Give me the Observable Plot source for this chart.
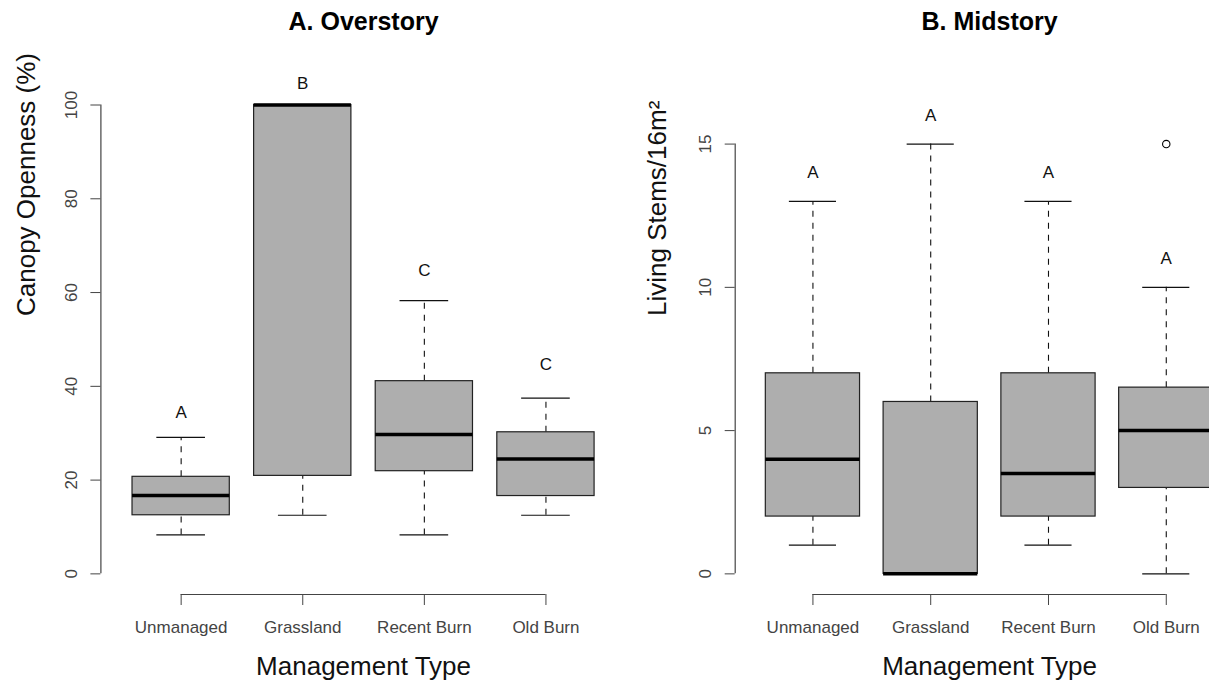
<!DOCTYPE html>
<html>
<head>
<meta charset="utf-8">
<script src="https://cdn.jsdelivr.net/npm/d3@7"></script>
<script src="https://cdn.jsdelivr.net/npm/@observablehq/plot@0.6"></script>
<style>
  html, body { margin: 0; padding: 0; background: #fff; overflow: hidden; }
  #wrap { position: relative; width: 1209px; height: 684px; overflow: hidden; background: #fff; }
  #left, #right { position: absolute; top: 0; }
  #left { left: 0; width: 640px; }
  #right { left: 640px; width: 620px; }
  #wrap svg { max-width: none !important; display: block; }
</style>
</head>
<body>
<div id="wrap"><div id="left"></div><div id="right"></div></div>
<script>
// ---- Data ----
const categories = ["Unmanaged", "Grassland", "Recent Burn", "Old Burn"];
const xTitle = "Management Type";

// A. Overstory — Canopy Openness (%)
const overTitle = "A. Overstory";
const overYTitle = "Canopy Openness (%)";
const overYLim = [0, 110];
const overYTicks = [0, 20, 40, 60, 80, 100];
const overLow = [8.3, 12.5, 8.3, 12.5];
const overQ1 = [12.5, 20.9, 21.9, 16.6];
const overMedian = [16.7, 100, 29.7, 24.5];
const overQ3 = [20.7, 100, 41.1, 30.2];
const overHigh = [29.1, 100, 58.3, 37.5];
const overOutliers = [];
const overLetters = ["A", "B", "C", "C"];
const overLetterY = [34.4, 104.6, 64.7, 44.7];

// B. Midstory — Living Stems/16m²
const midTitle = "B. Midstory";
const midYTitle = "Living Stems/16m²";
const midYLim = [0, 18];
const midYTicks = [0, 5, 10, 15];
const midLow = [1, 0, 1, 0];
const midQ1 = [2, 0, 2, 3];
const midMedian = [4, 0, 3.5, 5];
const midQ3 = [7, 6, 7, 6.5];
const midHigh = [13, 15, 13, 10];
const midOutliers = [{cat: "Old Burn", value: 15}];
const midLetters = ["A", "A", "A", "A"];
const midLetterY = [14, 16, 14, 11];

// ---- Styles ----
const FONT = "'Liberation Sans', Arial, Helvetica, sans-serif";
const boxFill = "#aeaeae";
const lineColor = "#111";
const axisColor = "#444";

function panel(o) {
  const n = categories.length;
  const idx = d3.range(1, n + 1);
  const rows = categories.map((c, i) => ({
    pos: i + 1, cat: c,
    low: o.low[i], q1: o.q1[i], med: o.med[i], q3: o.q3[i], high: o.high[i],
    letter: o.letters[i], letterY: o.letterY[i]
  }));
  const ext = 0.04;
  const xDomain = [0.5 - ext * n, n + 0.5 + ext * n];
  const yr = o.ylim[1] - o.ylim[0];
  const yDomain = [o.ylim[0] - ext * yr, o.ylim[1] + ext * yr];
  const boxHalf = 0.4, capHalf = 0.2;
  return Plot.plot({
    width: o.width, height: 684,
    marginTop: 37, marginBottom: 90,
    marginLeft: o.marginLeft, marginRight: o.marginRight,
    x: {domain: xDomain, axis: null},
    y: {domain: yDomain, axis: null},
    style: {fontFamily: FONT, background: "#fff", color: "#111", fontSize: "17px", maxWidth: "none"},
    marks: [
      // whiskers
      Plot.ruleX(rows, {x: "pos", y1: "q3", y2: "high", stroke: lineColor, strokeWidth: 1.1, strokeDasharray: "6,6"}),
      Plot.ruleX(rows, {x: "pos", y1: "low", y2: "q1", stroke: lineColor, strokeWidth: 1.1, strokeDasharray: "6,6"}),
      // staples
      Plot.ruleY(rows, {y: "high", x1: d => d.pos - capHalf, x2: d => d.pos + capHalf, stroke: lineColor, strokeWidth: 1.2}),
      Plot.ruleY(rows, {y: "low", x1: d => d.pos - capHalf, x2: d => d.pos + capHalf, stroke: lineColor, strokeWidth: 1.2}),
      // boxes
      Plot.rect(rows, {x1: d => d.pos - boxHalf, x2: d => d.pos + boxHalf, y1: "q1", y2: "q3", fill: boxFill, stroke: "#222", strokeWidth: 1.2}),
      // medians
      Plot.ruleY(rows, {y: "med", x1: d => d.pos - boxHalf, x2: d => d.pos + boxHalf, stroke: "#000", strokeWidth: 3.5}),
      // outliers
      Plot.dot(o.outliers, {x: d => categories.indexOf(d.cat) + 1, y: "value", r: 3.7, stroke: "#000", strokeWidth: 1.1, fill: "none"}),
      // significance letters
      Plot.text(rows, {x: "pos", y: "letterY", text: "letter", fontSize: 17, fill: "#111", lineAnchor: "middle"}),
      // axis lines (R style: from first to last tick)
      Plot.ruleX([xDomain[0]], {y1: o.yTicks[0], y2: o.yTicks[o.yTicks.length - 1], stroke: axisColor, strokeWidth: 1.2}),
      Plot.ruleY([yDomain[0]], {x1: idx[0], x2: idx[n - 1], stroke: axisColor, strokeWidth: 1.2}),
      Plot.axisY(o.yTicks, {
        anchor: "left", tickSize: 10, tickPadding: o.yTickPad, tickRotate: -90,
        textAnchor: "middle", lineAnchor: "middle", fontSize: 17, label: null, color: axisColor
      }),
      Plot.axisX(idx, {
        anchor: "bottom", tickSize: 11, tickPadding: 22, tickFormat: i => categories[i - 1],
        lineAnchor: "middle", fontSize: 17, label: null, color: axisColor
      }),
      // axis titles and panel title
      Plot.text([o.yTitle], {text: d => d, frameAnchor: "left", dx: o.yTitleDx, rotate: -90, fontSize: 26, lineAnchor: "middle", fill: "#111"}),
      Plot.text([xTitle], {text: d => d, frameAnchor: "bottom", dy: 72, fontSize: 26, lineAnchor: "middle", fill: "#111"}),
      Plot.text([o.title], {text: d => d, frameAnchor: "top", dy: -15.5, fontSize: 25, fontWeight: "bold", lineAnchor: "middle", fill: "#000"})
    ]
  });
}

document.getElementById("left").append(panel({
  width: 640, marginLeft: 100.4, marginRight: 14.3,
  title: overTitle, yTitle: overYTitle, ylim: overYLim, yTicks: overYTicks,
  low: overLow, q1: overQ1, med: overMedian, q3: overQ3, high: overHigh,
  outliers: overOutliers, letters: overLetters, letterY: overLetterY,
  yTitleDx: -74.7, yTickPad: 19
}));

document.getElementById("right").append(panel({
  width: 620, marginLeft: 94.7, marginRight: 16.5,
  title: midTitle, yTitle: midYTitle, ylim: midYLim, yTicks: midYTicks,
  low: midLow, q1: midQ1, med: midMedian, q3: midQ3, high: midHigh,
  outliers: midOutliers, letters: midLetters, letterY: midLetterY,
  yTitleDx: -78, yTickPad: 20
}));
</script>
</body>
</html>
